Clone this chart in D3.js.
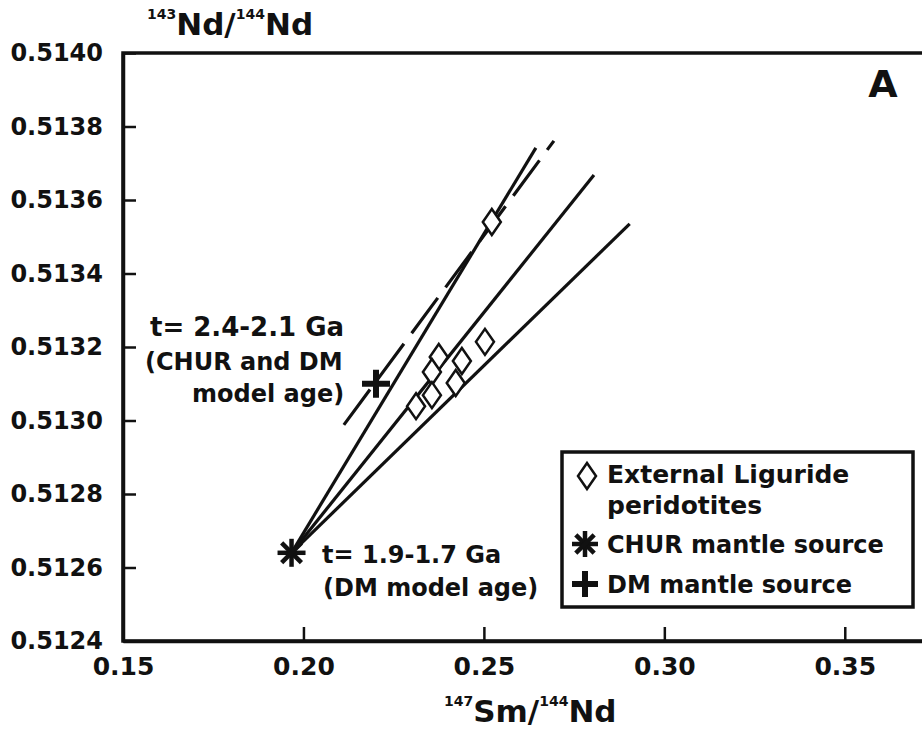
<!DOCTYPE html>
<html>
<head>
<meta charset="utf-8">
<script src="https://cdn.jsdelivr.net/npm/d3@7"></script>
<style>
  body { margin: 0; background: #fff; }
  svg { display: block; font-family: "DejaVu Sans", sans-serif; }
</style>
</head>
<body>
<div id="chart"></div>
<script>
var svgWidth = 922;
var svgHeight = 733;

// tick labels
var xTicks = [0.15, 0.20, 0.25, 0.30, 0.35];
var yTicks = [0.5124, 0.5126, 0.5128, 0.5130, 0.5132, 0.5134, 0.5136, 0.5138, 0.5140];

// External Liguride peridotites
var periSm = [0.2522, 0.2503, 0.2439, 0.2375, 0.2356, 0.2422, 0.2356, 0.2312];
var periNd = [0.51354, 0.513214, 0.513162, 0.513173, 0.513132, 0.513102, 0.513069, 0.513039];

// mantle sources
var churSource = [0.1967, 0.51264];
var dmSource = [0.2201, 0.51310];

// reference lines (start / end)
var lineStartSm = [0.1967, 0.2112, 0.1967, 0.1967];
var lineStartNd = [0.51264, 0.512988, 0.51264, 0.51264];
var lineEndSm = [0.2644, 0.2694, 0.2805, 0.2904];
var lineEndNd = [0.513742, 0.513761, 0.513668, 0.513535];
var lineDashed = [false, true, false, false];

var legendLabels = [["External Liguride", "peridotites"], ["CHUR mantle source"], ["DM mantle source"]];

var svg = d3.select("#chart")
    .append("svg")
    .attr("width", svgWidth)
    .attr("height", svgHeight);

var xScale = d3.scaleLinear()
    .domain([0.15, 0.375])
    .range([123, 935]);

var yScale = d3.scaleLinear()
    .domain([0.5124, 0.5140])
    .range([641, 53]);

// frame (right side runs off the picture)
svg.append("rect")
    .attr("x", xScale(0.15))
    .attr("y", yScale(0.5140))
    .attr("width", xScale(0.375) - xScale(0.15))
    .attr("height", yScale(0.5124) - yScale(0.5140))
    .attr("fill", "none")
    .attr("stroke", "#111")
    .attr("stroke-width", 3.5);

var xAxis = d3.axisBottom(xScale)
    .tickValues(xTicks)
    .tickFormat(d3.format(".2f"))
    .tickSizeInner(-14)
    .tickSizeOuter(0)
    .tickPadding(16);

var yAxis = d3.axisLeft(yScale)
    .tickValues(yTicks)
    .tickFormat(d3.format(".4f"))
    .tickSizeInner(-13)
    .tickSizeOuter(0)
    .tickPadding(20);

var gx = svg.append("g")
    .attr("transform", `translate(0, ${yScale(0.5124)})`)
    .call(xAxis);

var gy = svg.append("g")
    .attr("transform", `translate(${xScale(0.15)}, 0)`)
    .call(yAxis);

[gx, gy].forEach(function(g) {
    g.select(".domain").attr("stroke", "#111").attr("stroke-width", 3.5);
    g.selectAll(".tick line").attr("stroke", "#111").attr("stroke-width", 2.5);
    g.selectAll(".tick text")
        .attr("fill", "#111")
        .style("font-family", "DejaVu Sans")
        .style("font-weight", "bold");
});
gx.selectAll(".tick text").style("font-size", "25px").attr("dy", "0.71em");
gy.selectAll(".tick text").style("font-size", "24px");

// axis titles
function isoTitle(x, y, a, b, c, d) {
    var t = svg.append("text")
        .attr("x", x)
        .attr("y", y)
        .attr("fill", "#111")
        .style("font-weight", "bold");
    t.append("tspan").attr("dy", -16).style("font-size", "14px").text(a);
    t.append("tspan").attr("dy", 16).style("font-size", "31px").text(b);
    t.append("tspan").attr("dy", -16).style("font-size", "14px").text(c);
    t.append("tspan").attr("dy", 16).style("font-size", "31px").text(d);
}
isoTitle(147, 35, "143", "Nd/", "144", "Nd");
isoTitle(444, 722, "147", "Sm/", "144", "Nd");

// panel letter
svg.append("text")
    .attr("x", 883)
    .attr("y", 97)
    .attr("text-anchor", "middle")
    .attr("fill", "#111")
    .style("font-size", "38px")
    .style("font-weight", "bold")
    .text("A");

// lines
svg.append("g")
    .selectAll("line")
    .data(lineStartSm)
    .enter()
    .append("line")
    .attr("x1", (d, i) => xScale(lineStartSm[i]))
    .attr("y1", (d, i) => yScale(lineStartNd[i]))
    .attr("x2", (d, i) => xScale(lineEndSm[i]))
    .attr("y2", (d, i) => yScale(lineEndNd[i]))
    .attr("stroke", "#111")
    .attr("stroke-width", 3.2)
    .attr("stroke-dasharray", (d, i) => lineDashed[i] ? "44,13" : null);

// symbols
var diamondPath = "M0,-13L9,0L0,13L-9,0Z";

function drawDiamond(g, x, y) {
    g.append("path")
        .attr("d", diamondPath)
        .attr("transform", `translate(${x},${y})`)
        .attr("fill", "#fff")
        .attr("stroke", "#111")
        .attr("stroke-width", 2.5);
}

function drawStar(g, x, y, r) {
    var s = g.append("g").attr("transform", `translate(${x},${y})`);
    [0, 45, 90, 135].forEach(function(a) {
        var rad = a * Math.PI / 180;
        s.append("line")
            .attr("x1", -r * Math.cos(rad)).attr("y1", -r * Math.sin(rad))
            .attr("x2", r * Math.cos(rad)).attr("y2", r * Math.sin(rad))
            .attr("stroke", "#111")
            .attr("stroke-width", 4.5);
    });
}

function drawCross(g, x, y, r) {
    var s = g.append("g").attr("transform", `translate(${x},${y})`);
    s.append("line").attr("x1", -r).attr("x2", r).attr("y1", 0).attr("y2", 0)
        .attr("stroke", "#111").attr("stroke-width", 6);
    s.append("line").attr("x1", 0).attr("x2", 0).attr("y1", -r).attr("y2", r)
        .attr("stroke", "#111").attr("stroke-width", 6);
}

var marks = svg.append("g");
periSm.forEach(function(d, i) {
    drawDiamond(marks, xScale(periSm[i]), yScale(periNd[i]));
});
drawStar(marks, xScale(churSource[0]), yScale(churSource[1]), 14);
drawCross(marks, xScale(dmSource[0]), yScale(dmSource[1]), 14);

// annotations
function annot(x, y, size, txt) {
    svg.append("text")
        .attr("x", x)
        .attr("y", y)
        .attr("fill", "#111")
        .style("font-size", size + "px")
        .style("font-weight", "bold")
        .text(txt);
}
annot(150, 336, 26, "t= 2.4-2.1 Ga");
annot(145, 370, 24, "(CHUR and DM");
annot(192, 402, 24, "model age)");
annot(322, 563, 24, "t= 1.9-1.7 Ga");
annot(323, 596, 24, "(DM model age)");

// legend
var legend = svg.append("g");
legend.append("rect")
    .attr("x", 562)
    .attr("y", 452)
    .attr("width", 351)
    .attr("height", 155)
    .attr("fill", "#fff")
    .attr("stroke", "#111")
    .attr("stroke-width", 3.5);

drawDiamond(legend, 587, 476);
drawStar(legend, 585, 544, 13);
drawCross(legend, 585, 584, 13);

legend.append("text").attr("x", 607).attr("y", 483)
    .attr("fill", "#111").style("font-size", "25px").style("font-weight", "bold")
    .text(legendLabels[0][0]);
legend.append("text").attr("x", 607).attr("y", 514)
    .attr("fill", "#111").style("font-size", "25px").style("font-weight", "bold")
    .text(legendLabels[0][1]);
legend.append("text").attr("x", 607).attr("y", 553)
    .attr("fill", "#111").style("font-size", "24px").style("font-weight", "bold")
    .text(legendLabels[1][0]);
legend.append("text").attr("x", 607).attr("y", 593)
    .attr("fill", "#111").style("font-size", "24px").style("font-weight", "bold")
    .text(legendLabels[2][0]);
</script>
</body>
</html>
